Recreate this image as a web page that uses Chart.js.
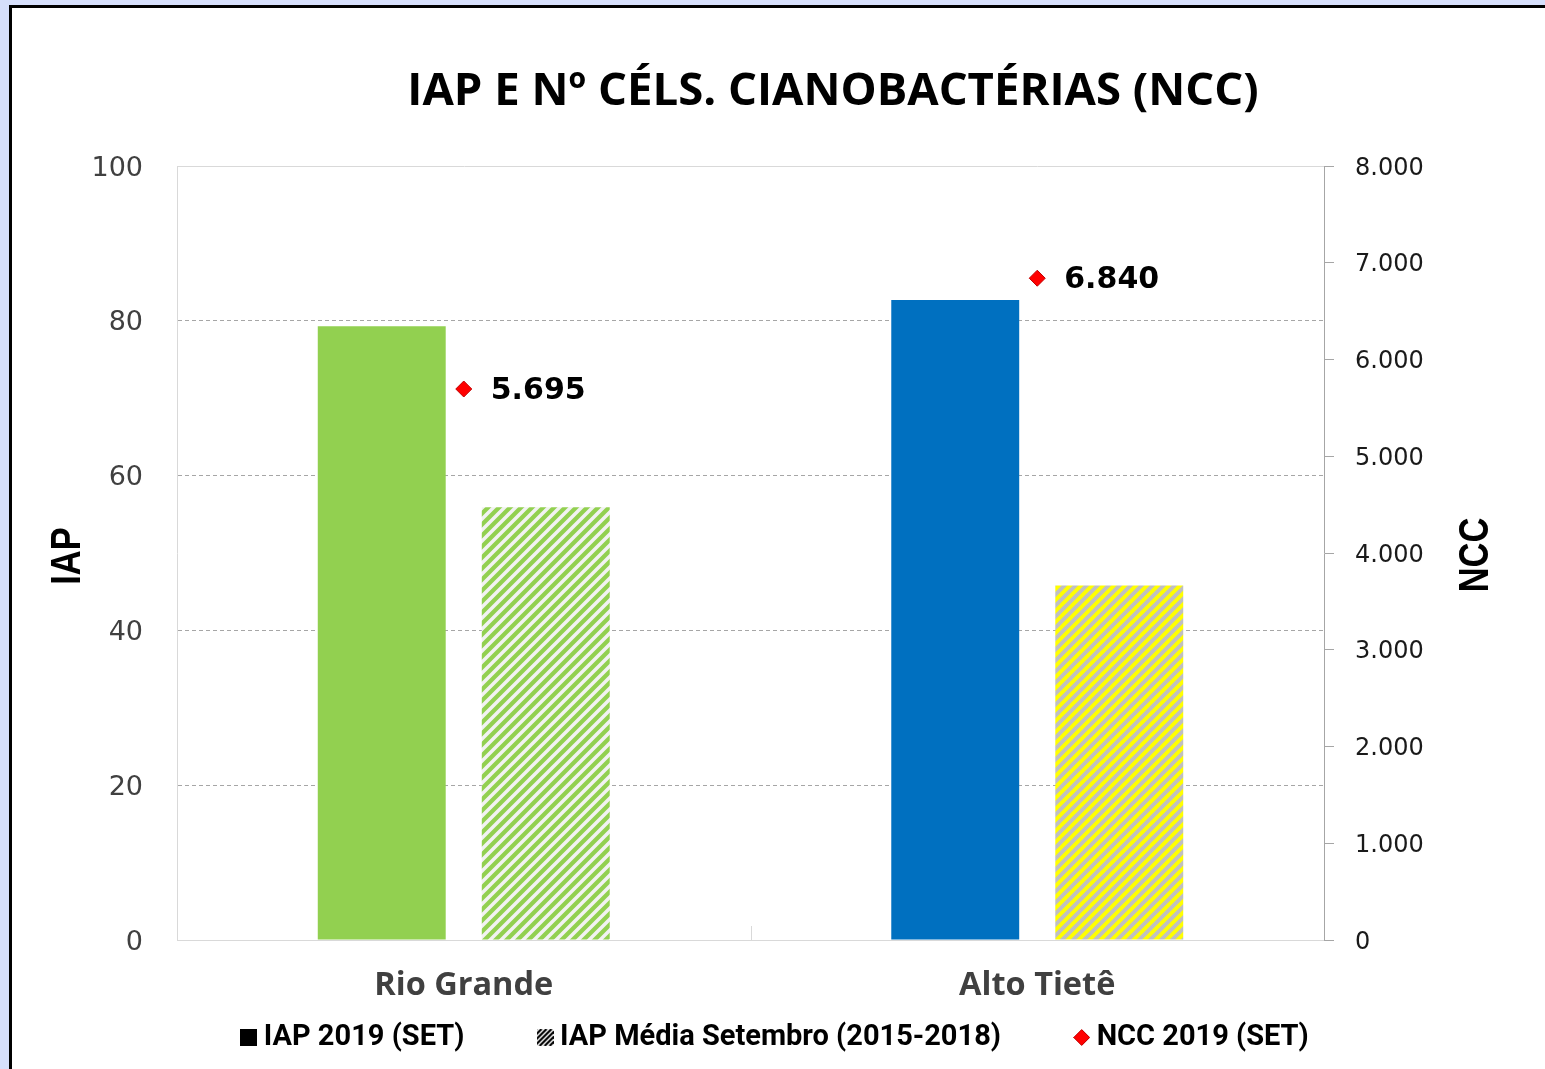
<!DOCTYPE html>
<html>
<head>
<meta charset="utf-8">
<script src="https://cdn.jsdelivr.net/npm/chart.js@4.4.1/dist/chart.umd.min.js"></script>
<style>
  html, body { margin: 0; padding: 0; overflow: hidden; background: #d6dffb; }
  #frame { position: absolute; left: 9px; top: 5px; width: 1600px; height: 1100px;
           background: #fff; border-left: 3px solid #000; border-top: 3px solid #000; }
  #myChart { position: absolute; left: 0; top: 0; }
</style>
</head>
<body>
<div id="frame"></div>
<canvas id="myChart" width="1545" height="1069"></canvas>
<script>
var categories = ['Rio Grande', 'Alto Tietê'];
var seriesNames = ['IAP 2019 (SET)', 'IAP Média Setembro (2015-2018)', 'NCC 2019 (SET)'];
var iap2019 = [79.3, 82.7];
var iapMediaSet = [55.9, 45.8];
var ncc2019 = [5695, 6840];
var chartTitle = 'IAP E Nº CÉLS. CIANOBACTÉRIAS (NCC)';

function fmtThousands(v) {
    return String(v).replace(/\B(?=(\d{3})+(?!\d))/g, '.');
}

// diagonal "/" stripes
function makeHatch(bg, fg, period, lw) {
    var c = document.createElement('canvas');
    c.width = period; c.height = period;
    var g = c.getContext('2d');
    g.fillStyle = bg;
    g.fillRect(0, 0, period, period);
    g.strokeStyle = fg;
    g.lineWidth = lw;
    g.beginPath();
    g.moveTo(0, period); g.lineTo(period, 0);
    g.moveTo(-period / 2, period / 2); g.lineTo(period / 2, -period / 2);
    g.moveTo(period / 2, period * 1.5); g.lineTo(period * 1.5, period / 2);
    g.stroke();
    return g.createPattern(c, 'repeat');
}

function iconSquare() {
    var c = document.createElement('canvas');
    c.width = 17; c.height = 17;
    var g = c.getContext('2d');
    g.fillStyle = '#000';
    g.fillRect(0, 0, 17, 17);
    return c;
}
function iconHatch() {
    var c = document.createElement('canvas');
    c.width = 17; c.height = 17;
    var g = c.getContext('2d');
    g.fillStyle = '#fff';
    g.fillRect(0, 0, 17, 17);
    g.strokeStyle = '#000';
    g.lineWidth = 2.2;
    g.beginPath();
    for (var k = -17; k < 34; k += 5) {
        g.moveTo(k, 17); g.lineTo(k + 17, 0);
    }
    g.stroke();
    return c;
}
function iconDiamond() {
    var c = document.createElement('canvas');
    c.width = 17; c.height = 17;
    var g = c.getContext('2d');
    g.fillStyle = '#ff0000';
    g.strokeStyle = '#c00000';
    g.lineWidth = 1;
    g.beginPath();
    g.moveTo(8.5, 0.5); g.lineTo(16.5, 8.5); g.lineTo(8.5, 16.5); g.lineTo(0.5, 8.5);
    g.closePath();
    g.fill(); g.stroke();
    return c;
}

var greenHatch = makeHatch('#92d050', '#f2f2f2', 11, 3.5);
var yellowHatch = makeHatch('#ffff00', '#c0c0c0', 11, 4);
var legendIcons = [iconSquare(), iconHatch(), iconDiamond()];
// extra gap after the first two legend entries
var legendGap = '\u2003\u2003';

function drawNarrow(ctx, text, x, y) {
    ctx.save();
    ctx.translate(x, y);
    ctx.rotate(-Math.PI / 2);
    ctx.scale(0.82, 1);
    ctx.fillText(text, 0, 0);
    ctx.restore();
}

var extras = {
    id: 'extras',
    afterDatasetsDraw: function (chart) {
        var ctx = chart.ctx;
        var meta = chart.getDatasetMeta(2);
        ctx.save();
        ctx.font = 'bold 30px "DejaVu Sans"';
        ctx.fillStyle = '#000';
        ctx.textAlign = 'left';
        ctx.textBaseline = 'middle';
        meta.data.forEach(function (pt, i) {
            ctx.fillText(fmtThousands(ncc2019[i]), pt.x + 27, pt.y + 2);
        });
        ctx.restore();
    },
    afterDraw: function (chart) {
        var ctx = chart.ctx;
        var area = chart.chartArea;
        var x = chart.scales.x;
        ctx.save();
        // separator tick between categories
        var sep = (x.getPixelForValue(0) + x.getPixelForValue(1)) / 2;
        ctx.strokeStyle = '#d9d9d9';
        ctx.lineWidth = 1;
        ctx.beginPath();
        ctx.moveTo(Math.round(sep) + 0.5, area.bottom - 14);
        ctx.lineTo(Math.round(sep) + 0.5, area.bottom);
        ctx.stroke();
        // title
        ctx.fillStyle = '#000';
        ctx.textAlign = 'center';
        ctx.textBaseline = 'middle';
        ctx.font = 'bold 45.5px "Open Sans"';
        ctx.fillText(chartTitle, 833, 92);
        // axis titles
        ctx.font = 'bold 42px "Liberation Sans"';
        drawNarrow(ctx, 'IAP', 68, 556);
        drawNarrow(ctx, 'NCC', 1476, 555);
        ctx.restore();
    }
};

var ctx = document.getElementById('myChart').getContext('2d');
var myChart = new Chart(ctx, {
    type: 'bar',
    data: {
        labels: categories,
        datasets: [{
            label: seriesNames[0],
            data: iap2019,
            backgroundColor: ['#92d050', '#0070c0'],
            yAxisID: 'y'
        }, {
            label: seriesNames[1],
            data: iapMediaSet,
            backgroundColor: [greenHatch, yellowHatch],
            yAxisID: 'y'
        }, {
            type: 'line',
            label: seriesNames[2],
            data: ncc2019,
            yAxisID: 'y2',
            showLine: false,
            pointStyle: 'rectRot',
            pointRadius: 8,
            backgroundColor: '#ff0000',
            borderColor: '#c00000',
            borderWidth: 1
        }]
    },
    options: {
        responsive: false,
        animation: false,
        devicePixelRatio: 1,
        categoryPercentage: 0.572,
        barPercentage: 0.78,
        layout: { padding: { top: 166, left: 12, right: 0, bottom: 7 } },
        plugins: {
            title: { display: false },
            tooltip: { enabled: false },
            legend: {
                position: 'bottom',
                labels: {
                    usePointStyle: true,
                    pointStyleWidth: 1,
                    padding: 21,
                    color: '#262626',
                    font: { family: 'Roboto', weight: 'bold', size: 29 },
                    generateLabels: function (chart) {
                        return seriesNames.map(function (name, i) {
                            return {
                                text: i < 2 ? name + legendGap : name,
                                pointStyle: legendIcons[i],
                                fillStyle: '#000',
                                strokeStyle: '#000',
                                lineWidth: 0,
                                hidden: false,
                                datasetIndex: i
                            };
                        });
                    }
                }
            }
        },
        scales: {
            x: {
                grid: { display: false, drawTicks: false },
                border: { color: '#d9d9d9', width: 1 },
                ticks: {
                    padding: 26,
                    color: '#404040',
                    font: { family: '"Open Sans"', weight: 'bold', size: 32.5 }
                },
                afterFit: function (scale) { scale.height = 62; }
            },
            y: {
                position: 'left',
                min: 0,
                max: 100,
                ticks: {
                    stepSize: 20,
                    padding: 34,
                    labelOffset: 2.5,
                    color: '#404040',
                    font: { family: '"DejaVu Sans"', size: 27 }
                },
                grid: {
                    drawTicks: false,
                    color: function (c) {
                        if (!c.tick) return '#a6a6a6';
                        if (c.tick.value === 0) return 'rgba(0,0,0,0)';
                        if (c.tick.value === 100) return '#d9d9d9';
                        return '#a6a6a6';
                    }
                },
                border: {
                    color: '#d9d9d9',
                    dash: function (c) {
                        return (c.tick && c.tick.value > 0 && c.tick.value < 100) ? [4, 3] : [];
                    }
                },
                afterFit: function (scale) { scale.width = 165; }
            },
            y2: {
                position: 'right',
                min: 0,
                max: 8000,
                ticks: {
                    stepSize: 1000,
                    padding: 21,
                    labelOffset: 2.5,
                    color: '#1a1a1a',
                    font: { family: '"DejaVu Sans"', size: 24 },
                    callback: function (v) { return fmtThousands(v); }
                },
                grid: {
                    drawOnChartArea: false,
                    drawTicks: true,
                    tickLength: 10,
                    tickColor: '#a6a6a6'
                },
                border: { color: '#a6a6a6' },
                afterFit: function (scale) { scale.width = 221; }
            }
        }
    },
    plugins: [extras]
});
</script>
</body>
</html>
